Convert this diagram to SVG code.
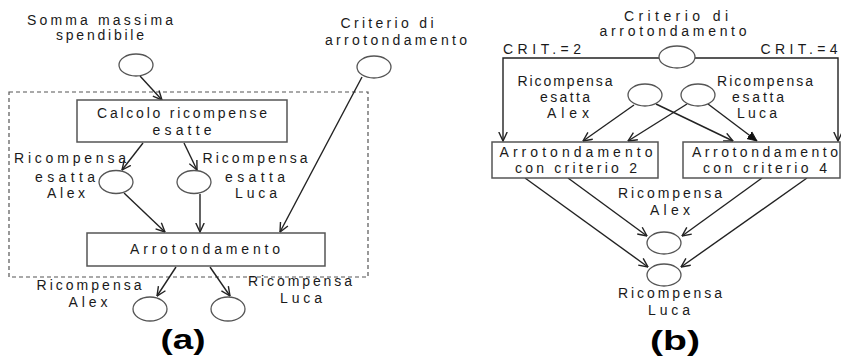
<svg xmlns="http://www.w3.org/2000/svg" width="841" height="357" viewBox="0 0 841 357">
<style>
  text { font-family: "Liberation Sans", "DejaVu Sans", sans-serif; font-size: 14px; fill: #1a1a1a; text-anchor: middle; }
  .big { font-size: 28px; font-weight: bold; fill: #000; }
  .node circle, .node ellipse { fill: #fff; stroke: #555; stroke-width: 1.3; }
  .box rect { fill: #fff; stroke: #555; stroke-width: 1.5; }
  .conn line, .conn polyline { stroke: #222; stroke-width: 1.4; fill: none; }
  .frame { fill: none; stroke: #555; stroke-width: 1.2; stroke-dasharray: 4 3; }
</style>
<defs>
  <marker id="open" viewBox="0 0 10 10" refX="9.5" refY="5" markerWidth="10" markerHeight="10" markerUnits="userSpaceOnUse" orient="auto">
    <path d="M0.5,0.8 L9.5,5 L0.5,9.2" fill="none" stroke="#222" stroke-width="1.4"/>
  </marker>
  <marker id="filled" viewBox="0 0 10 10" refX="9.5" refY="5" markerWidth="10" markerHeight="10" markerUnits="userSpaceOnUse" orient="auto">
    <path d="M0,0.8 L9.5,5 L0,9.2 Z" fill="#111" stroke="#111" stroke-width="0.8"/>
  </marker>
</defs>
<rect width="841" height="357" fill="#fff"/>

<!-- ===== (a) ===== -->
<rect class="frame" x="9" y="92" width="359" height="185"/>

<g class="conn" id="connectors-a">
  <line x1="140" y1="76" x2="162" y2="100" marker-end="url(#open)"/>
  <line x1="362" y1="77" x2="280" y2="232" marker-end="url(#open)"/>
  <line x1="143" y1="143" x2="122" y2="170" marker-end="url(#open)"/>
  <line x1="184" y1="143" x2="197" y2="170" marker-end="url(#open)"/>
  <line x1="124" y1="193" x2="165" y2="232" marker-end="url(#open)"/>
  <line x1="200" y1="194" x2="200" y2="232" marker-end="url(#open)"/>
  <line x1="176" y1="267" x2="157" y2="296" marker-end="url(#open)"/>
  <line x1="210" y1="267" x2="230" y2="296" marker-end="url(#open)"/>
</g>

<g class="node" id="a-somma">
  <ellipse cx="136" cy="65" rx="17" ry="11"/>
  <text x="100" y="25" textLength="146" lengthAdjust="spacing">Somma massima</text>
  <text x="100" y="40" textLength="88" lengthAdjust="spacing">spendibile</text>
</g>
<g class="node" id="a-criterio">
  <ellipse cx="374" cy="67" rx="17" ry="11"/>
  <text x="387" y="28" textLength="93" lengthAdjust="spacing">Criterio di</text>
  <text x="396" y="45" textLength="142" lengthAdjust="spacing">arrotondamento</text>
</g>
<g class="box" id="a-calcolo">
  <rect x="77" y="100" width="210" height="42"/>
  <text x="182" y="118" textLength="170" lengthAdjust="spacing">Calcolo ricompense</text>
  <text x="182" y="135" textLength="59" lengthAdjust="spacing">esatte</text>
</g>
<g class="node" id="a-esatta-alex">
  <ellipse cx="116" cy="182" rx="17" ry="11.5"/>
  <text x="70" y="163" textLength="112" lengthAdjust="spacing">Ricompensa</text>
  <text x="65" y="182" textLength="60" lengthAdjust="spacing">esatta</text>
  <text x="66" y="198" textLength="38" lengthAdjust="spacing">Alex</text>
</g>
<g class="node" id="a-esatta-luca">
  <ellipse cx="194" cy="182" rx="17" ry="11.5"/>
  <text x="255" y="163" textLength="105" lengthAdjust="spacing">Ricompensa</text>
  <text x="255" y="182" textLength="60" lengthAdjust="spacing">esatta</text>
  <text x="256" y="198" textLength="42" lengthAdjust="spacing">Luca</text>
</g>
<g class="box" id="a-arrotondamento">
  <rect x="87" y="233" width="238" height="33"/>
  <text x="205" y="254" textLength="150" lengthAdjust="spacing">Arrotondamento</text>
</g>
<g class="node" id="a-ric-alex">
  <ellipse cx="150" cy="309" rx="17" ry="12"/>
  <text x="89" y="290" textLength="105" lengthAdjust="spacing">Ricompensa</text>
  <text x="88" y="307" textLength="39" lengthAdjust="spacing">Alex</text>
</g>
<g class="node" id="a-ric-luca">
  <ellipse cx="228" cy="309" rx="17" ry="12"/>
  <text x="300" y="286" textLength="104" lengthAdjust="spacing">Ricompensa</text>
  <text x="301" y="303" textLength="42" lengthAdjust="spacing">Luca</text>
</g>
<text class="big" x="183" y="349" textLength="45" lengthAdjust="spacingAndGlyphs">(a)</text>

<!-- ===== (b) ===== -->
<g class="conn" id="connectors-b">
  <polyline points="659,58 503,58 503,141" marker-end="url(#open)"/>
  <polyline points="695,58 838,58 838,141" marker-end="url(#open)"/>
  <text x="542" y="54" textLength="78" lengthAdjust="spacing">CRIT.=2</text>
  <text x="799" y="54" textLength="77" lengthAdjust="spacing">CRIT.=4</text>
  <line x1="634" y1="105" x2="583" y2="141" marker-end="url(#open)"/>
  <line x1="656" y1="104" x2="733" y2="141" marker-end="url(#open)"/>
  <line x1="687" y1="104" x2="628" y2="141" marker-end="url(#open)"/>
  <line x1="708" y1="104" x2="757" y2="141" marker-end="url(#filled)"/>
  <line x1="525" y1="178" x2="648" y2="267" marker-end="url(#open)"/>
  <line x1="568" y1="178" x2="647" y2="236" marker-end="url(#open)"/>
  <line x1="762" y1="178" x2="682" y2="236" marker-end="url(#open)"/>
  <line x1="807" y1="178" x2="681" y2="267" marker-end="url(#open)"/>
</g>

<g class="node" id="b-criterio">
  <ellipse cx="677" cy="57" rx="18" ry="11"/>
  <text x="676" y="21" textLength="104" lengthAdjust="spacing">Criterio di</text>
  <text x="673" y="36" textLength="147" lengthAdjust="spacing">arrotondamento</text>
</g>
<g class="node" id="b-esatta-alex">
  <ellipse cx="645" cy="95" rx="17" ry="11"/>
  <text x="565" y="86" textLength="95" lengthAdjust="spacing">Ricompensa</text>
  <text x="565" y="102" textLength="50" lengthAdjust="spacing">esatta</text>
  <text x="568" y="118" textLength="42" lengthAdjust="spacing">Alex</text>
</g>
<g class="node" id="b-esatta-luca">
  <ellipse cx="698" cy="95" rx="17" ry="11"/>
  <text x="765" y="86" textLength="96" lengthAdjust="spacing">Ricompensa</text>
  <text x="758" y="102" textLength="52" lengthAdjust="spacing">esatta</text>
  <text x="757" y="118" textLength="40" lengthAdjust="spacing">Luca</text>
</g>
<g class="box" id="b-crit2">
  <rect x="492" y="142" width="166" height="36"/>
  <text x="576" y="157" textLength="153" lengthAdjust="spacing">Arrotondamento</text>
  <text x="576" y="173" textLength="122" lengthAdjust="spacing">con criterio 2</text>
</g>
<g class="box" id="b-crit4">
  <rect x="683" y="142" width="157" height="36"/>
  <text x="765" y="157" textLength="146" lengthAdjust="spacing">Arrotondamento</text>
  <text x="765" y="173" textLength="124" lengthAdjust="spacing">con criterio 4</text>
</g>
<g class="node" id="b-ric-alex">
  <ellipse cx="664" cy="243" rx="17" ry="11"/>
  <text x="670" y="198" textLength="104" lengthAdjust="spacing">Ricompensa</text>
  <text x="670" y="215" textLength="40" lengthAdjust="spacing">Alex</text>
</g>
<g class="node" id="b-ric-luca">
  <ellipse cx="664" cy="275" rx="17" ry="11"/>
  <text x="670" y="298" textLength="104" lengthAdjust="spacing">Ricompensa</text>
  <text x="669" y="315" textLength="42" lengthAdjust="spacing">Luca</text>
</g>
<text class="big" x="675" y="350" textLength="50" lengthAdjust="spacingAndGlyphs">(b)</text>
</svg>
